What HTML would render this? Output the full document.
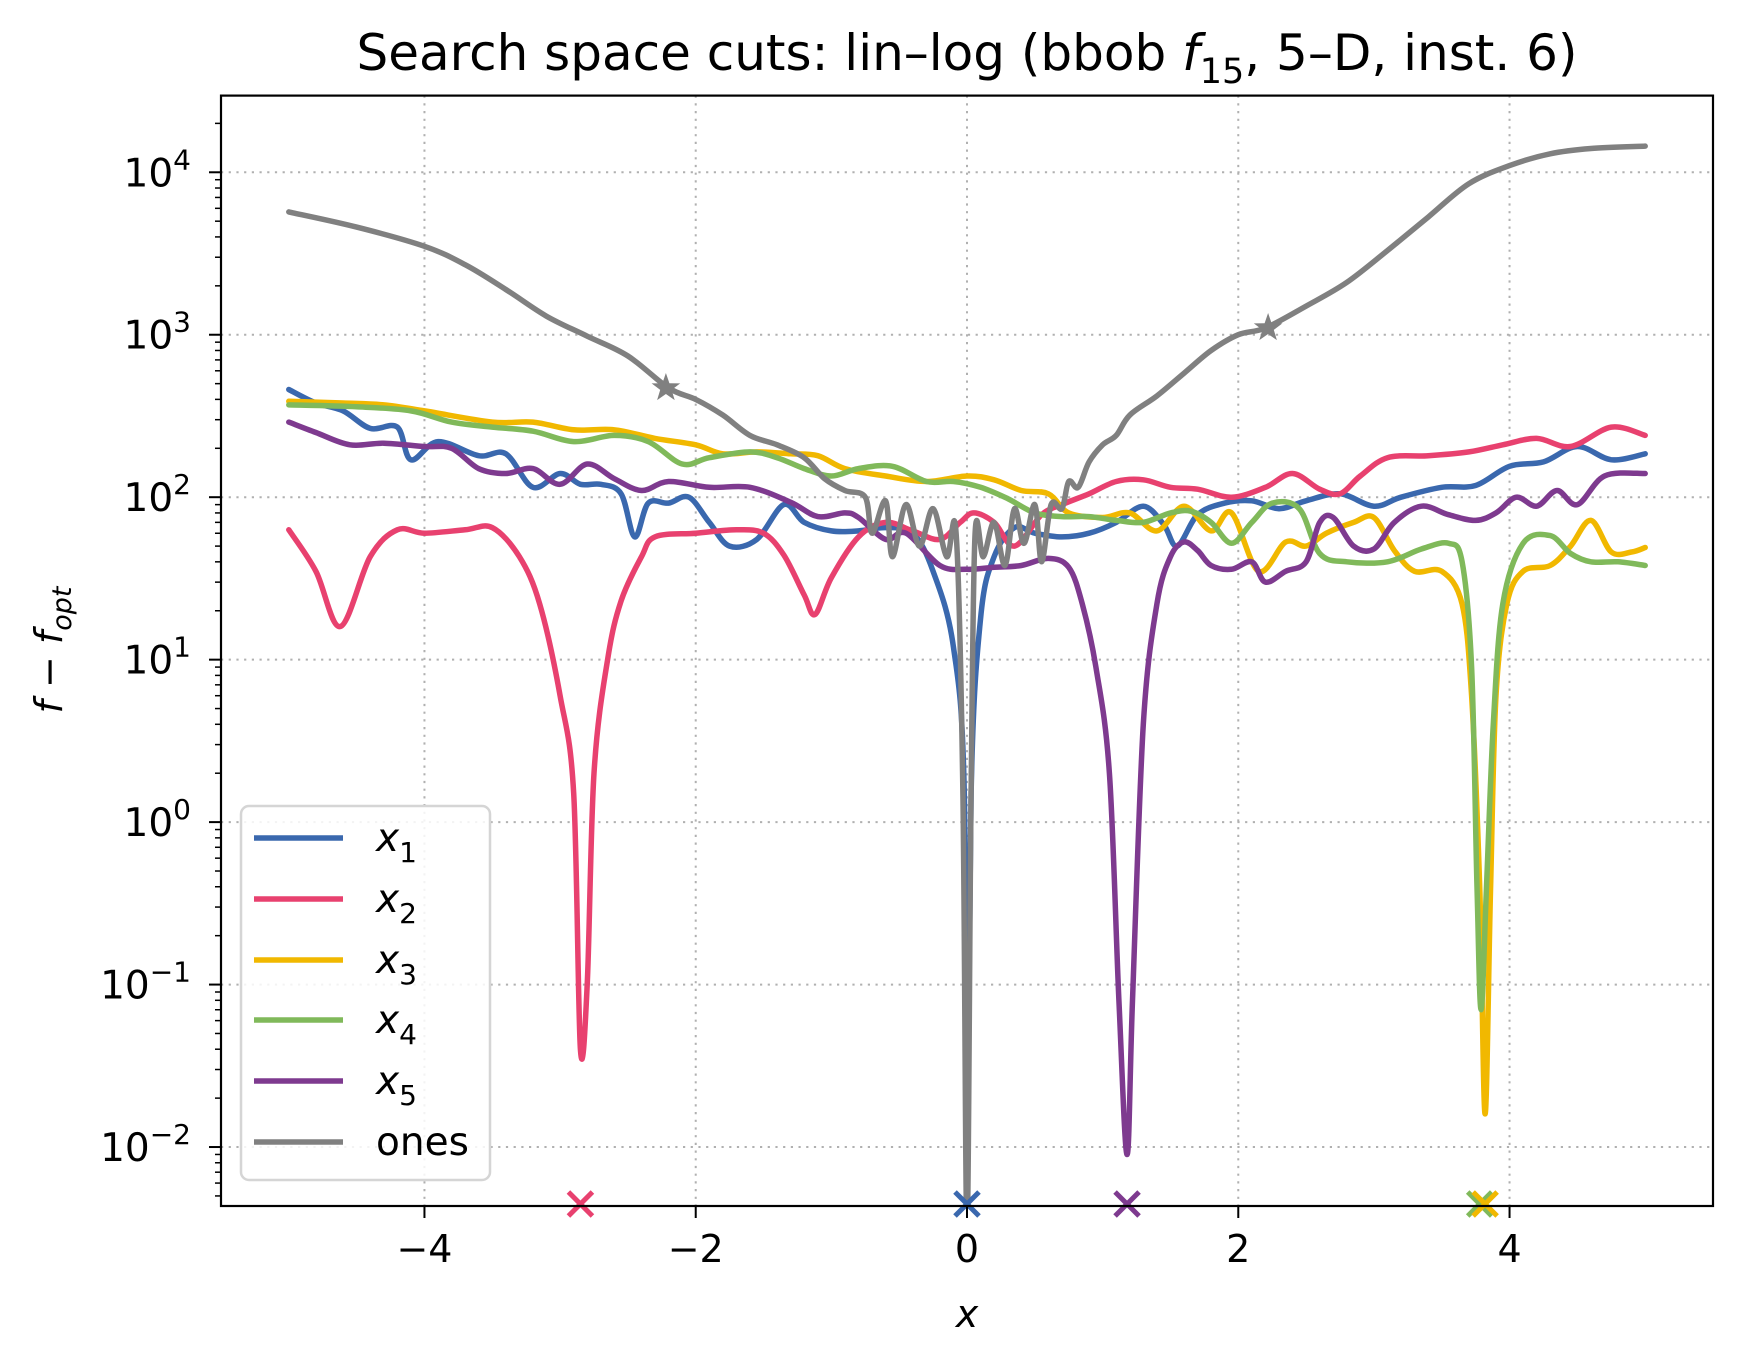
<!DOCTYPE html>
<html><head><meta charset="utf-8"><style>
html,body{margin:0;padding:0;background:#fff;}
svg{display:block;font-family:"DejaVu Sans","Liberation Sans",sans-serif;}
</style></head><body>
<svg id="chart" width="1737" height="1359" viewBox="0 0 1737 1359" xmlns="http://www.w3.org/2000/svg">
<defs><clipPath id="plotclip"><rect x="221" y="95.6" width="1492" height="1110.4"/></clipPath></defs>
<rect width="1737" height="1359" fill="#fff"/>
<text x="967" y="70" font-size="50" text-anchor="middle">Search space cuts: lin–log (bbob <tspan font-style="italic">f</tspan><tspan font-size="35" dy="13">15</tspan><tspan dy="-13">, 5–D, inst. 6)</tspan></text>
<g id="grid"></g>
<g id="series" clip-path="url(#plotclip)"></g>
<g id="markers"></g>
<rect x="221" y="95.6" width="1492" height="1110.4" fill="none" stroke="#000" stroke-width="2.2"/>
<g id="axes"></g>
<text x="967" y="1327" font-size="38" font-style="italic" text-anchor="middle">x</text>
<text transform="translate(62,650) rotate(-90)" font-size="38" text-anchor="middle"><tspan font-style="italic">f</tspan> − <tspan font-style="italic">f</tspan><tspan font-size="27" dy="9" font-style="italic">opt</tspan></text>
<g id="legend"></g>
</svg>
<script>
const xTicks = [-4, -2, 0, 2, 4];
const xTickLabels = ["−4", "−2", "0", "2", "4"];
const yTickExps = [-2, -1, 0, 1, 2, 3, 4];
const seriesNames = ["x1", "x2", "x3", "x4", "x5", "ones"];
const x1X = [-5.0,-4.8,-4.6,-4.4,-4.2,-4.1,-3.9,-3.6,-3.4,-3.2,-3.0,-2.85,-2.7,-2.55,-2.45,-2.35,-2.2,-2.05,-1.9,-1.75,-1.55,-1.35,-1.2,-1.0,-0.8,-0.6,-0.4,-0.25,-0.1,-0.02,0,0.03,0.1,0.2,0.35,0.5,0.7,0.9,1.1,1.3,1.45,1.55,1.7,1.9,2.1,2.3,2.5,2.75,3.0,3.2,3.5,3.75,4.0,4.25,4.5,4.75,5.0];
const x1Y = [460,380,340,265,270,170,220,180,185,115,140,120,120,105,57,92,92,100,70,50,55,90,70,62,62,65,60,35,12,1.5,0.003,1.5,18,43,65,60,57,60,70,88,68,50,78,92,95,85,95,105,88,100,115,118,155,165,205,170,185];
const x2X = [-5.0,-4.8,-4.62,-4.4,-4.2,-4.0,-3.7,-3.5,-3.3,-3.15,-3.0,-2.9,-2.85,-2.8,-2.75,-2.65,-2.55,-2.4,-2.3,-2.0,-1.7,-1.5,-1.35,-1.2,-1.12,-1.0,-0.8,-0.6,-0.4,-0.2,-0.05,0.05,0.2,0.35,0.55,0.7,0.9,1.1,1.3,1.5,1.7,1.95,2.2,2.4,2.6,2.75,2.9,3.1,3.4,3.7,3.95,4.2,4.45,4.75,5.0];
const x2Y = [63,35,16,43,63,60,63,65,43,22,6,1.5,0.04,0.1,2,10,23,43,57,60,63,60,44,25,19,32,57,70,62,55,70,80,70,50,78,90,105,125,128,115,112,100,115,140,112,105,135,175,180,190,210,230,205,270,240];
const x3X = [-5.0,-4.6,-4.3,-4.0,-3.5,-3.2,-2.9,-2.6,-2.3,-2.0,-1.8,-1.55,-1.3,-1.1,-0.9,-0.6,-0.3,0.0,0.2,0.4,0.6,0.75,1.0,1.2,1.4,1.6,1.8,1.95,2.15,2.35,2.5,2.65,2.85,3.0,3.15,3.3,3.5,3.65,3.72,3.78,3.82,3.86,3.9,3.98,4.1,4.3,4.45,4.6,4.75,4.9,5.0];
const x3Y = [390,380,370,340,290,290,260,260,230,210,185,190,185,180,150,135,125,135,128,110,105,80,75,80,62,88,62,80,35,53,50,60,70,75,47,35,35,22,6,0.4,0.016,0.4,6,22,35,38,50,72,46,46,49];
const x4X = [-5.0,-4.5,-4.1,-3.8,-3.5,-3.2,-2.9,-2.6,-2.35,-2.1,-1.9,-1.6,-1.4,-1.2,-1.0,-0.8,-0.55,-0.3,-0.1,0.1,0.3,0.5,0.7,0.9,1.1,1.3,1.5,1.65,1.8,1.95,2.1,2.25,2.45,2.6,2.8,3.1,3.35,3.55,3.65,3.72,3.76,3.79,3.83,3.88,3.95,4.1,4.3,4.45,4.6,4.8,5.0];
const x4Y = [370,360,340,290,270,255,220,240,220,160,175,190,175,150,135,150,155,125,125,115,98,80,76,76,72,70,80,82,70,52,70,92,85,45,40,40,48,52,40,9,0.4,0.07,0.4,4,22,52,58,45,40,40,38];
const x5X = [-5.0,-4.8,-4.55,-4.3,-4.0,-3.8,-3.6,-3.4,-3.2,-3.0,-2.8,-2.6,-2.4,-2.2,-1.9,-1.6,-1.3,-1.1,-0.9,-0.8,-0.6,-0.45,-0.2,0.0,0.2,0.4,0.6,0.75,0.85,0.95,1.05,1.12,1.18,1.22,1.3,1.4,1.5,1.6,1.7,1.8,1.95,2.1,2.2,2.35,2.5,2.6,2.7,2.85,3.0,3.15,3.35,3.55,3.75,3.9,4.05,4.2,4.35,4.5,4.7,5.0];
const x5Y = [290,250,210,215,205,200,150,140,150,120,160,130,110,125,115,115,93,76,80,75,55,60,38,36,37,38,42,37,22,9,2,0.08,0.009,0.08,4,22,43,53,47,38,36,40,30,35,40,70,75,50,48,70,88,78,72,80,100,88,110,90,135,140];
const onesX = [-5.0,-4.5,-4.0,-3.7,-3.4,-3.1,-2.8,-2.5,-2.2,-2.0,-1.8,-1.6,-1.4,-1.2,-1.05,-0.9,-0.75,-0.7,-0.6,-0.55,-0.45,-0.35,-0.25,-0.15,-0.08,-0.03,0.0,0.03,0.06,0.12,0.2,0.28,0.35,0.42,0.5,0.55,0.62,0.7,0.75,0.82,0.9,1.0,1.1,1.2,1.4,1.6,1.8,2.0,2.2,2.5,2.8,3.1,3.4,3.7,4.0,4.3,4.6,5.0];
const onesY = [5700,4600,3500,2700,1900,1300,980,740,470,400,320,240,210,175,130,110,100,60,95,43,90,50,85,43,60,1.5,0.003,1.5,60,43,70,38,85,52,90,40,90,85,125,115,165,210,240,320,420,580,800,1000,1100,1500,2100,3300,5300,8500,11000,13000,14000,14500];
const starX = [-2.22, 2.22];
const starY = [470, 1100];
const optX = [-2.85, 0, 1.18, 3.78, 3.82];
const optColor = ["#e8416f", "#3a68ae", "#7e3a8f", "#80b95a", "#f1b800"];

const colors = ["#3a68ae", "#e8416f", "#f1b800", "#80b95a", "#7e3a8f", "#808080"];
const allX = [x1X, x2X, x3X, x4X, x5X, onesX];
const allY = [x1Y, x2Y, x3Y, x4Y, x5Y, onesY];
const NS = "http://www.w3.org/2000/svg";
const L = 221, R = 1713, T = 95.6, B = 1206;
const xmin = -5.5, xmax = 5.5, lmin = -2.363, lmax = 4.472;
function sx(v){ return L + (v - xmin) / (xmax - xmin) * (R - L); }
function sy(v){ const lv = Math.log10(Math.max(v, 1e-6)); return B - (lv - lmin) / (lmax - lmin) * (B - T); }
function mk(tag, attrs, parent){ const e = document.createElementNS(NS, tag); for (const k in attrs) e.setAttribute(k, attrs[k]); parent.appendChild(e); return e; }
function smoothPath(pts){
  let d = 'M' + pts[0][0].toFixed(1) + ',' + pts[0][1].toFixed(1);
  for (let i = 0; i < pts.length - 1; i++) {
    const p0 = pts[Math.max(0, i - 1)], p1 = pts[i], p2 = pts[i + 1], p3 = pts[Math.min(pts.length - 1, i + 2)];
    const k = 1 / 6;
    const c1 = [p1[0] + (p2[0] - p0[0]) * k, p1[1] + (p2[1] - p0[1]) * k];
    const c2 = [p2[0] - (p3[0] - p1[0]) * k, p2[1] - (p3[1] - p1[1]) * k];
    d += 'C' + c1[0].toFixed(1) + ',' + c1[1].toFixed(1) + ' ' + c2[0].toFixed(1) + ',' + c2[1].toFixed(1) + ' ' + p2[0].toFixed(1) + ',' + p2[1].toFixed(1);
  }
  return d;
}
const grid = document.getElementById('grid'), axes = document.getElementById('axes');
xTicks.forEach((t, i) => {
  const gl = mk('line', {x1: sx(t), x2: sx(t), y1: T, y2: B, stroke: '#b0b0b0', 'stroke-width': 2, 'stroke-dasharray': '2.2,5.5'}, grid);
  
  
  const tk = mk('line', {x1: sx(t), x2: sx(t), y1: B, y2: B + 12, stroke: '#000', 'stroke-width': 2}, axes);
  
  
  const tl = mk('text', {x: sx(t), y: B + 56, 'font-size': 38, 'text-anchor': 'middle'}, axes);
  tl.textContent = xTickLabels[i];
  
  
});
yTickExps.forEach(e => {
  const y = sy(Math.pow(10, e));
  const gl = mk('line', {x1: L, x2: R, y1: y, y2: y, stroke: '#b0b0b0', 'stroke-width': 2, 'stroke-dasharray': '2.2,5.5'}, grid);
  
  
  const tk = mk('line', {x1: L - 12, x2: L, y1: y, y2: y, stroke: '#000', 'stroke-width': 2}, axes);
  
  
  const tl = mk('text', {x: L - 30, y: y + 14, 'font-size': 39, 'text-anchor': 'end'}, axes);
  tl.innerHTML = '10<tspan font-size="28" dy="-17">' + (e < 0 ? '−' + (-e) : e) + '</tspan>';
  
  
});
for (let e = -3; e <= 4; e++) for (let m = 2; m <= 9; m++) {
  const y = sy(m * Math.pow(10, e));
  if (y < T || y > B) continue;
  const mt = mk('line', {x1: L - 6, x2: L, y1: y, y2: y, stroke: '#000', 'stroke-width': 1.5}, axes);
  
  
}
const sg = document.getElementById('series');
allX.forEach((xs, i) => {
  const pts = xs.map((x, j) => [sx(x), sy(allY[i][j])]);
  const p = mk('path', {d: smoothPath(pts), fill: 'none', stroke: colors[i], 'stroke-width': 5.5, 'stroke-linejoin': 'round', 'stroke-linecap': 'round'}, sg);
  
  
});
starX.forEach((x, i) => {
  const cx = sx(x), cy = sy(starY[i]); let pts = [];
  for (let k = 0; k < 10; k++) { const r = k % 2 ? 6 : 15, a = -Math.PI / 2 + k * Math.PI / 5; pts.push((cx + r * Math.cos(a)).toFixed(1) + ',' + (cy + r * Math.sin(a)).toFixed(1)); }
  const s = mk('polygon', {points: pts.join(' '), fill: '#808080'}, sg);
  
  
});
const mg = document.getElementById('markers');
optX.forEach((x, i) => {
  const cx = sx(x), cy = B - 2, h = 12;
  const m = mk('path', {d: `M${cx-h},${cy-h}L${cx+h},${cy+h}M${cx-h},${cy+h}L${cx+h},${cy-h}`, stroke: optColor[i], 'stroke-width': 5}, mg);
  
  
});
const lg = document.getElementById('legend');
const box = mk('rect', {x: 241, y: 806, width: 249, height: 374, rx: 8, fill: '#fff', 'fill-opacity': 0.85, stroke: '#d5d5d5', 'stroke-width': 2.5}, lg);


const legY = [838, 899, 960, 1020, 1081, 1142];
seriesNames.forEach((n, i) => {
  const ln = mk('line', {x1: 254, x2: 343, y1: legY[i], y2: legY[i], stroke: colors[i], 'stroke-width': 5.5}, lg);
  
  
  const t = mk('text', {x: 376, y: legY[i] + 13, 'font-size': 39}, lg);
  if (n === 'ones') t.textContent = 'ones';
  else t.innerHTML = '<tspan font-style="italic">x</tspan><tspan font-size="28" dy="11">' + n.slice(1) + '</tspan>';
  
  
});
</script>
</body></html>
